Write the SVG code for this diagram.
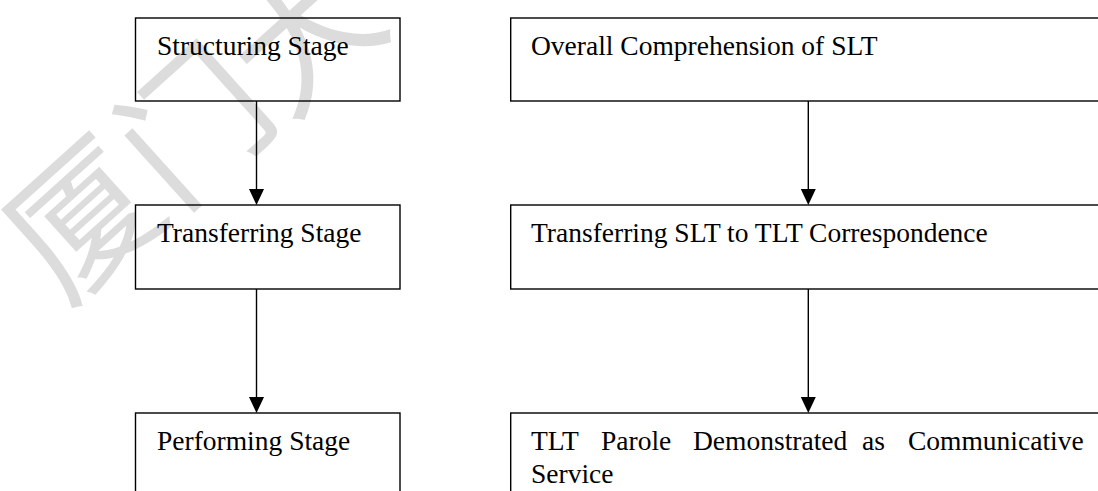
<svg xmlns="http://www.w3.org/2000/svg" width="1098" height="491" viewBox="0 0 1098 491">
<style>
.box{fill:none;stroke:#000;stroke-width:1.4}
.lbl{font-family:"Liberation Serif","Times New Roman",serif;font-size:27.5px;fill:#000}
.wm{font-family:"Noto Sans CJK SC",sans-serif;font-size:145px;fill:#dcdcdc;text-anchor:middle;dominant-baseline:central}
.conn{stroke:#000;stroke-width:1.4;fill:none}
.head{fill:#000}
</style>
<rect width="1098" height="491" fill="#fff"/>
<g id="watermark">
<text class="wm" transform="translate(76,212) rotate(-42)">厦</text>
<text class="wm" transform="translate(188,118) rotate(-42)">门</text>
<text class="wm" transform="translate(298,26) rotate(-42)">大</text>
</g>
<g id="connectors">
<line class="conn" x1="256.5" y1="101" x2="256.5" y2="189"/>
<path class="head" d="M249,189 L264,189 L256.5,205 Z"/>
<line class="conn" x1="256.5" y1="289" x2="256.5" y2="397"/>
<path class="head" d="M249,397 L264,397 L256.5,413 Z"/>
<line class="conn" x1="808.3" y1="101" x2="808.3" y2="189"/>
<path class="head" d="M800.8,189 L815.8,189 L808.3,205 Z"/>
<line class="conn" x1="808.3" y1="289" x2="808.3" y2="397"/>
<path class="head" d="M800.8,397 L815.8,397 L808.3,413 Z"/>
</g>
<g id="structuring">
<rect class="box" x="135.5" y="18" width="264.5" height="83"/>
<text class="lbl" x="157" y="55">Structuring Stage</text>
</g>
<g id="transferring">
<rect class="box" x="135.5" y="205" width="264.5" height="84"/>
<text class="lbl" x="157" y="242">Transferring Stage</text>
</g>
<g id="performing">
<rect class="box" x="135.5" y="413" width="264.5" height="100"/>
<text class="lbl" x="157" y="450">Performing Stage</text>
</g>
<g id="overall">
<rect class="box" x="510.7" y="18" width="620" height="83"/>
<text class="lbl" x="531" y="55">Overall Comprehension of SLT</text>
</g>
<g id="transferring-slt">
<rect class="box" x="510.7" y="205" width="620" height="84"/>
<text class="lbl" x="531" y="242">Transferring SLT to TLT Correspondence</text>
</g>
<g id="tlt-parole">
<rect class="box" x="510.7" y="413" width="620" height="100"/>
<text class="lbl" y="450"><tspan x="531">TLT</tspan><tspan x="601">Parole</tspan><tspan x="693">Demonstrated</tspan><tspan x="862">as</tspan><tspan x="908">Communicative</tspan></text>
<text class="lbl" x="531" y="483">Service</text>
</g>
</svg>
